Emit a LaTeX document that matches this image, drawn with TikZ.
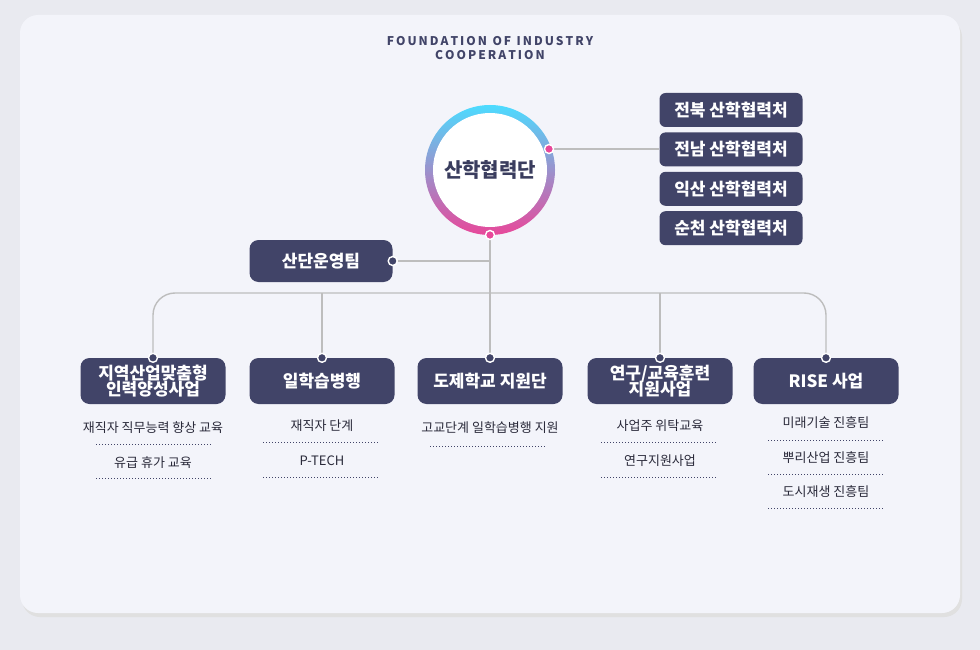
\documentclass[tikz,border=0pt]{standalone}
\usepackage{fontspec}
\setmainfont{Noto Sans CJK KR}
\usetikzlibrary{positioning}
\definecolor{navy}{HTML}{414468}
\definecolor{pagebg}{HTML}{E9EAF0}
\definecolor{cardbg}{HTML}{F3F4FA}
\definecolor{linegray}{HTML}{BDBDBD}
\definecolor{dotpink}{HTML}{E8489A}
\definecolor{txt}{HTML}{2A2A3A}
\tikzset{
  unit/.style={fill=navy, rounded corners=9pt, text=white, minimum width=145pt, minimum height=46pt,
    font=\bfseries\fontsize{17}{19}\selectfont, align=center, inner sep=2pt},
  office/.style={fill=navy, rounded corners=6pt, text=white, minimum width=143pt, minimum height=34pt,
    font=\bfseries\fontsize{17}{19}\selectfont, inner sep=2pt},
  item/.style={text=txt, font=\fontsize{13}{15}\selectfont, inner sep=1pt},
  link/.style={linegray, line width=1.4pt},
  sep/.style={navy, dotted, line width=1pt},
  knob/.style={circle, draw=white, line width=1.4pt, inner sep=0pt, minimum size=9pt},
}
\begin{document}
\begin{tikzpicture}[x=1pt,y=-1pt]
\useasboundingbox (0,0) rectangle (980,650);
\fill[pagebg] (0,0) rectangle (980,650);
% card
\fill[black!12, rounded corners=18pt] (22,19) rectangle (962,617);
\fill[cardbg, rounded corners=18pt] (20,15) rectangle (960,613);
\node[text=navy, font=\bfseries\fontsize{12}{14}\selectfont, align=center] (title) at (490,48)
  {F\,O\,U\,N\,D\,A\,T\,I\,O\,N\ \ O\,F\ \ I\,N\,D\,U\,S\,T\,R\,Y\\C\,O\,O\,P\,E\,R\,A\,T\,I\,O\,N};

% centre
\coordinate (hub) at (490,170);
\shade[top color=cyan!80!blue!70, middle color=violet!60, bottom color=dotpink] (hub) circle (65);
\fill[white] (hub) circle (57);
\node[text=navy!90!black, font=\bfseries\fontsize{20}{22}\selectfont] (coop) at (hub) {산학협력단};
\coordinate (east) at (549,149);
\coordinate (south) at (490,235);

% regional offices
\node[office] (o1) at (731,110) {전북 산학협력처};
\node[office, below=5pt of o1] (o2) {전남 산학협력처};
\node[office, below=5pt of o2] (o3) {익산 산학협력처};
\node[office, below=5pt of o3] (o4) {순천 산학협력처};
\draw[link] (east) -- (o2.west |- east);

% team
\node[unit, minimum width=143pt, minimum height=42pt] (team) at (321,261) {산단운영팀};
\coordinate (j1) at (490,261);
\draw[link] (team.east) -- (j1);

% units
\node[unit] (u1) at (153,381) {지역산업맞춤형\\[-3pt]인력양성사업};
\node[unit] (u2) at (322,381) {일학습병행};
\node[unit] (u3) at (490,381) {도제학교 지원단};
\node[unit] (u4) at (660,381) {연구/교육훈련\\[-3pt]지원사업};
\node[unit] (u5) at (826,381) {RISE 사업};

\draw[link] (south) -- (u3.north);
\draw[link, rounded corners=22pt] (u1.north) -- (153,293) -- (826,293) -- (u5.north);
\foreach \u in {u2,u4} \draw[link] (\u.north |- 0,293) -- (\u.north);

% knobs
\node[knob, fill=dotpink] (k1) at (east) {};
\node[knob, fill=dotpink] (k2) at (south) {};
\node[knob, fill=navy] (k3) at (team.east) {};
\foreach \u in {u1,u2,u3,u4,u5} \node[knob, fill=navy] at (\u.north) {};

% items
\node[item] (a1) at (153,428) {재직자 직무능력 향상 교육};
\node[item] (a2) at (153,463) {유급 휴가 교육};
\draw[sep] (96,444) -- (212,444); \draw[sep] (96,478) -- (212,478);
\node[item] (b1) at (322,426) {재직자 단계};
\node[item] (b2) at (322,461) {P-TECH};
\draw[sep] (263,442) -- (379,442); \draw[sep] (263,477) -- (379,477);
\node[item] (c1) at (490,428) {고교단계 일학습병행 지원};
\draw[sep] (430,446) -- (546,446);
\node[item] (d1) at (660,426) {사업주 위탁교육};
\node[item] (d2) at (660,461) {연구지원사업};
\draw[sep] (601,442) -- (717,442); \draw[sep] (601,477) -- (717,477);
\node[item] (e1) at (826,423) {미래기술 진흥팀};
\node[item] (e2) at (826,458) {뿌리산업 진흥팀};
\node[item] (e3) at (826,492) {도시재생 진흥팀};
\draw[sep] (768,440) -- (884,440); \draw[sep] (768,474) -- (884,474); \draw[sep] (768,508) -- (884,508);
\end{tikzpicture}
\end{document}
